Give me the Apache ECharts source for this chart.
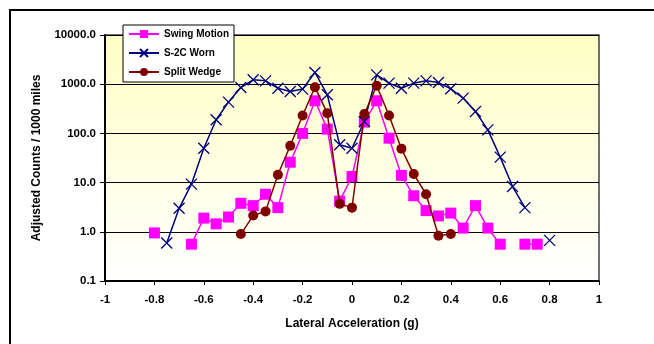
<!DOCTYPE html>
<html>
<head>
<meta charset="utf-8">
<script src="https://cdn.jsdelivr.net/npm/echarts@6/dist/echarts.min.js"></script>
<style>
html,body{margin:0;padding:0;background:#fff;}
#chart{width:654px;height:344px;}
</style>
</head>
<body>
<div id="chart"></div>
<script>
// Data
var swingX = [-0.8, -0.75, -0.7, -0.65, -0.6, -0.55, -0.5, -0.45, -0.4, -0.35, -0.3, -0.25, -0.2, -0.15, -0.1, -0.05, 0, 0.05, 0.1, 0.15, 0.2, 0.25, 0.3, 0.35, 0.4, 0.45, 0.5, 0.55, 0.6, 0.65, 0.7, 0.75];
var swingY = [0.95, null, null, 0.56, 1.9, 1.45, 2.0, 3.8, 3.4, 5.8, 3.1, 26, 100, 460, 122, 4.2, 13.3, 170, 460, 80, 14, 5.4, 2.7, 2.1, 2.4, 1.19, 3.4, 1.19, 0.56, null, 0.56, 0.56];

var wornX = [-0.75, -0.7, -0.65, -0.6, -0.55, -0.5, -0.45, -0.4, -0.35, -0.3, -0.25, -0.2, -0.15, -0.1, -0.05, 0, 0.05, 0.1, 0.15, 0.2, 0.25, 0.3, 0.35, 0.4, 0.45, 0.5, 0.55, 0.6, 0.65, 0.7, 0.75, 0.8];
var wornY = [0.59, 3.0, 9.3, 50, 189, 433, 857, 1230, 1170, 830, 710, 795, 1730, 610, 59, 50, 175, 1550, 1050, 830, 1050, 1170, 1080, 806, 521, 279, 118, 33, 8.3, 3.1, null, 0.67];

var wedgeX = [-0.45, -0.4, -0.35, -0.3, -0.25, -0.2, -0.15, -0.1, -0.05, 0, 0.05, 0.1, 0.15, 0.2, 0.25, 0.3, 0.35, 0.4];
var wedgeY = [0.9, 2.14, 2.6, 14.4, 56, 231, 870, 258, 3.7, 3.1, 247, 927, 231, 49, 14.9, 5.8, 0.83, 0.9];

var seriesNames = ['Swing Motion', 'S-2C Worn', 'Split Wedge'];
var xTitle = 'Lateral Acceleration (g)';
var yTitle = 'Adjusted Counts / 1000 miles';

function pairs(xs, ys) {
  return xs.map(function (x, i) { return [x, ys[i] == null ? '-' : ys[i]]; });
}

var chart = echarts.init(document.getElementById('chart'), null, {renderer: 'canvas'});
var fontFam = 'Arial, "Liberation Sans", sans-serif';

var option = {
  animation: false,
  backgroundColor: '#ffffff',
  graphic: [{
    type: 'rect',
    shape: {x: 10, y: 10, width: 700, height: 400},
    style: {fill: 'none', stroke: '#000', lineWidth: 2},
    z: 100
  }],
  grid: {
    left: 105, top: 35, width: 494, height: 246,
    show: true,
    borderColor: '#404040',
    borderWidth: 1.5,
    backgroundColor: new echarts.graphic.LinearGradient(0, 0, 0, 1, [
      {offset: 0, color: '#FFFFC4'},
      {offset: 1, color: '#FFFFFF'}
    ])
  },
  legend: {
    left: 123, top: 25,
    orient: 'vertical',
    backgroundColor: '#fff',
    borderColor: '#000',
    borderWidth: 1,
    padding: [4, 5, 5, 5],
    itemWidth: 30, itemHeight: 10, itemGap: 9,
    textStyle: {fontFamily: fontFam, fontWeight: 'bold', fontSize: 10, color: '#000'},
    data: seriesNames
  },
  xAxis: {
    type: 'value', min: -1, max: 1, interval: 0.2,
    name: xTitle, nameLocation: 'middle', nameGap: 37,
    nameTextStyle: {fontFamily: fontFam, fontWeight: 'bold', fontSize: 12, color: '#000'},
    axisLine: {show: true, onZero: false, lineStyle: {color: '#000', width: 2}},
    axisTick: {show: true, length: 4, lineStyle: {color: '#000', width: 1}},
    axisLabel: {
      margin: 13, color: '#000', fontFamily: fontFam, fontWeight: 'bold', fontSize: 11.5,
      formatter: function (v) { return String(Math.round(v * 10) / 10); }
    },
    splitLine: {show: false}
  },
  yAxis: {
    type: 'log', logBase: 10, min: 0.1, max: 10000,
    name: yTitle, nameLocation: 'middle', nameGap: 62,
    nameTextStyle: {fontFamily: fontFam, fontWeight: 'bold', fontSize: 12, color: '#000'},
    axisLine: {show: true, onZero: false, lineStyle: {color: '#000', width: 2}},
    axisTick: {show: true, length: 5, lineStyle: {color: '#000', width: 1}},
    axisLabel: {
      margin: 9, color: '#000', fontFamily: fontFam, fontWeight: 'bold', fontSize: 11.5,
      formatter: function (v) { return Number(v).toFixed(1); }
    },
    splitLine: {show: true, lineStyle: {color: '#000', width: 1}},
    minorTick: {show: false}
  },
  series: [
    {
      name: seriesNames[0], type: 'line',
      data: pairs(swingX, swingY),
      connectNulls: false,
      symbol: 'rect', symbolSize: 11,
      color: '#FF00FF',
      lineStyle: {color: '#FF00FF', width: 1.5},
      itemStyle: {color: '#FF00FF'},
      z: 3
    },
    {
      name: seriesNames[1], type: 'line',
      data: pairs(wornX, wornY),
      connectNulls: false,
      symbol: 'path://M0 0L10 10M10 0L0 10', symbolSize: 11,
      color: '#000080',
      lineStyle: {color: '#000080', width: 1.5},
      itemStyle: {color: '#000080', borderColor: '#000080', borderWidth: 1.3},
      z: 4
    },
    {
      name: seriesNames[2], type: 'line',
      data: pairs(wedgeX, wedgeY),
      connectNulls: false,
      symbol: 'circle', symbolSize: 10,
      color: '#800000',
      lineStyle: {color: '#800000', width: 1.5},
      itemStyle: {color: '#800000'},
      z: 5
    }
  ]
};
chart.setOption(option);
</script>
</body>
</html>
